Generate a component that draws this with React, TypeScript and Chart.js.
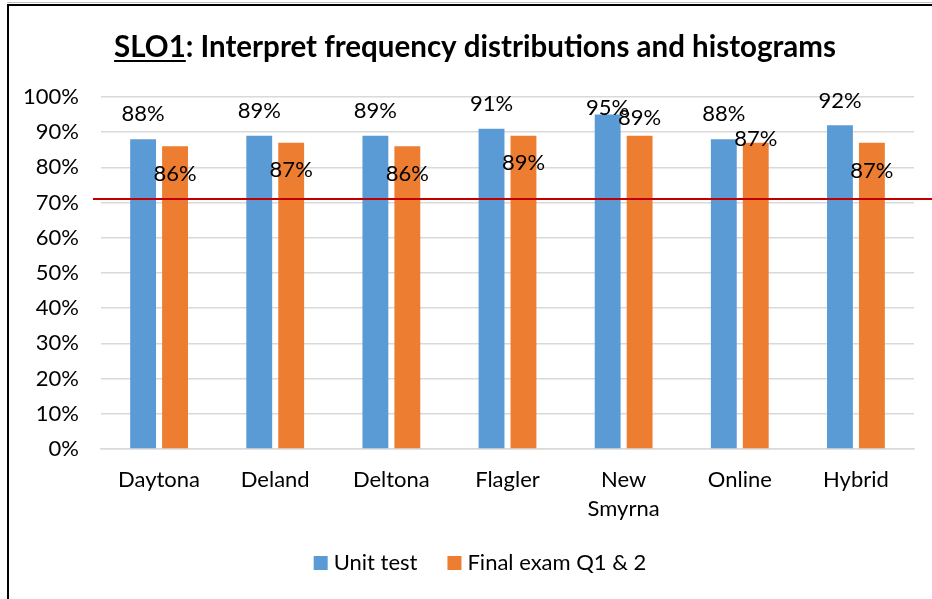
import React, { useEffect, useRef } from "react";
import { Chart, registerables } from "chart.js";

Chart.register(...registerables);

const categories: (string | string[])[] = ["Daytona", "Deland", "Deltona", "Flagler", ["New", "Smyrna"], "Online", "Hybrid"];
const unitTest = [88, 89, 89, 91, 95, 88, 92];
const finalExam = [86, 87, 86, 89, 89, 87, 87];
const seriesNames = ["Unit test", "Final exam Q1 & 2"];
const seriesColors = ["#5B9BD5", "#ED7D31"];
const targetValue = 71;
const titleUnderlined = "SLO1";
const titleRest = ": Interpret frequency distributions and histograms";
// label vertical offsets (px) relative to the bar top, as placed in the original
const unitLabelDy = [-25, -25, -25, -25, -7, -25, -24];
const finalLabelDy = [28, 27, 28, 27, -18, -4, 28];

const FONT = "Lato, 'Open Sans', sans-serif";

const overlayPlugin = {
  id: "overlay",
  afterDatasetsDraw(chart: any) {
    const { ctx, scales, chartArea } = chart;
    const y = scales.y;
    ctx.save();
    // target line
    const yy = y.getPixelForValue(targetValue);
    ctx.strokeStyle = "#C00000";
    ctx.lineWidth = 2;
    ctx.beginPath();
    ctx.moveTo(chartArea.left - 8, yy);
    ctx.lineTo(chart.width, yy);
    ctx.stroke();
    // data labels
    ctx.font = `22px ${FONT}`;
    ctx.fillStyle = "#000";
    ctx.textAlign = "center";
    ctx.textBaseline = "middle";
    const values = [unitTest, finalExam];
    const dys = [unitLabelDy, finalLabelDy];
    for (let d = 0; d < 2; d++) {
      const meta = chart.getDatasetMeta(d);
      meta.data.forEach((bar: any, i: number) => {
        ctx.fillText(values[d][i] + "%", bar.x, bar.y + dys[d][i]);
      });
    }
    ctx.restore();
  },
  afterDraw(chart: any) {
    const { ctx } = chart;
    ctx.save();
    // title
    ctx.font = `bold 29.5px ${FONT}`;
    ctx.fillStyle = "#000";
    ctx.textBaseline = "alphabetic";
    ctx.textAlign = "left";
    const w1 = ctx.measureText(titleUnderlined).width;
    const w2 = ctx.measureText(titleRest).width;
    const cx = chart.width / 2 + 9;
    const x0 = cx - (w1 + w2) / 2;
    const base = 57;
    ctx.fillText(titleUnderlined, x0, base);
    ctx.fillText(titleRest, x0 + w1, base);
    ctx.fillRect(x0, base + 3, w1, 2);
    // legend
    ctx.font = `22px ${FONT}`;
    ctx.textBaseline = "middle";
    const box = 14, gap = 6, itemGap = 30;
    const tw = seriesNames.map((s) => ctx.measureText(s).width);
    const total = box + gap + tw[0] + itemGap + box + gap + tw[1];
    let lx = 480 - total / 2;
    const ly = 563;
    for (let i = 0; i < 2; i++) {
      ctx.fillStyle = seriesColors[i];
      ctx.fillRect(lx, ly - box / 2, box, box);
      ctx.fillStyle = "#000";
      ctx.fillText(seriesNames[i], lx + box + gap, ly);
      lx += box + gap + tw[i] + itemGap;
    }
    // frame
    ctx.fillStyle = "#BFBFBF";
    ctx.fillRect(7, 2, chart.width, 1);
    ctx.fillStyle = "#000";
    ctx.fillRect(7, 4, chart.width, 2);
    ctx.fillRect(7, 4, 2, chart.height);
    ctx.restore();
  },
};

export default function App() {
  const ref = useRef<HTMLCanvasElement | null>(null);
  useEffect(() => {
    if (!ref.current) return;
    const chart = new Chart(ref.current, {
      type: "bar",
      data: {
        labels: categories,
        datasets: [
          { label: seriesNames[0], data: unitTest, backgroundColor: seriesColors[0], categoryPercentage: 0.55, barPercentage: 0.81 },
          { label: seriesNames[1], data: finalExam, backgroundColor: seriesColors[1], categoryPercentage: 0.55, barPercentage: 0.81 },
        ],
      },
      options: {
        animation: false,
        responsive: false,
        devicePixelRatio: 1,
        layout: { padding: { left: 0, right: 18, top: 97, bottom: 70 } },
        plugins: { legend: { display: false }, title: { display: false }, tooltip: { enabled: false } },
        scales: {
          y: {
            min: 0,
            max: 100,
            ticks: {
              stepSize: 10,
              callback: (v: any) => v + "%",
              font: { family: FONT, size: 22 },
              color: "#000",
              padding: 22,
            },
            grid: { color: "#D9D9D9", lineWidth: 1.5, drawTicks: false },
            border: { display: false },
            afterFit: (s: any) => { s.width = 101; },
          },
          x: {
            ticks: { font: { family: FONT, size: 22, lineHeight: 1.3 }, color: "#000", padding: 17, maxRotation: 0, autoSkip: false },
            grid: { display: false, drawTicks: false },
            border: { display: true, color: "#D9D9D9", width: 1.5 },
            afterFit: (s: any) => { s.height = 80; },
          },
        },
      },
      plugins: [overlayPlugin],
    });
    if ((document as any).fonts && (document as any).fonts.ready) {
      (document as any).fonts.ready.then(() => chart.update());
    }
    return () => chart.destroy();
  }, []);
  return (
    <div style={{ position: "fixed", left: 0, top: 0, width: 932, height: 599, background: "#fff" }}>
      <canvas ref={ref} width={932} height={599} style={{ display: "block" }} />
    </div>
  );
}
